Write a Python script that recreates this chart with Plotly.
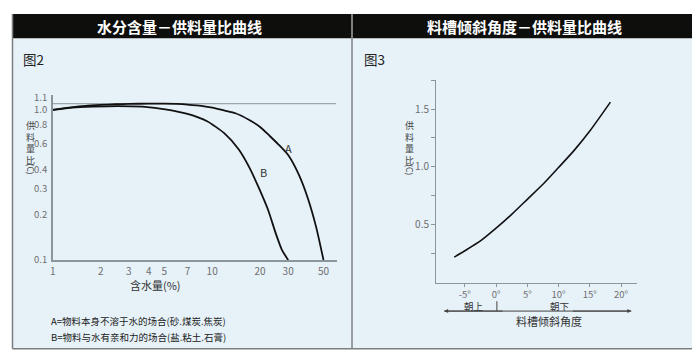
import plotly.graph_objects as go

# The page body has an 8px margin, so the figure is drawn 8px in from the window corner.
OFF = 8
W, H = 700 - OFF, 360 - OFF
def px(X): return (X - OFF) / W
def py(Y): return 1 - (Y - OFF) / H

# ---------------- data ----------------
# Fig.2: moisture content (%) vs feed ratio (C), log-log
moisture_a = [1, 1.3, 1.6, 2, 2.5, 3, 4, 5, 6, 7, 8, 10, 12, 14, 17, 20, 23, 26, 30, 35, 40, 45, 50]
ratio_a = [1.0, 1.04, 1.065, 1.08, 1.09, 1.097, 1.1, 1.1, 1.095, 1.085, 1.07, 1.035, 0.99, 0.95,
           0.86, 0.77, 0.67, 0.59, 0.50, 0.37, 0.255, 0.165, 0.1]
moisture_b = [1, 1.33, 1.78, 2.55, 3.65, 5.2, 7, 9.3, 11.9, 14.7, 17.3, 19.7, 22.4, 25.1, 27.4, 30]
ratio_b = [1.0, 1.035, 1.05, 1.06, 1.05, 1.005, 0.94, 0.84, 0.70, 0.545, 0.405, 0.30, 0.217,
           0.15, 0.117, 0.1]
ref_line_x = [1, 60]
ref_line_y = [1.1, 1.1]
x2_ticks = [1, 2, 3, 4, 5, 7, 10, 20, 30, 50]
y2_ticks = [0.1, 0.2, 0.3, 0.4, 0.6, 0.8, 1.0, 1.1]
y2_ticktext = ["0.1", "0.2", "0.3", "0.4", "0.6", "0.8", "1.0", "1.1<br>\u00a0"]

# Fig.3: trough tilt angle (deg) vs feed ratio (C)
tilt_deg = [-6.7, -5, -2.5, 0, 2.5, 5, 7.5, 10, 12.5, 15, 18.3]
tilt_ratio = [0.22, 0.275, 0.36, 0.47, 0.59, 0.72, 0.85, 0.995, 1.143, 1.31, 1.56]
x3_ticks = [-5, 0, 5, 10, 15, 20]
x3_ticktext = ["-5°", "0°", "5°", "10°", "15°", "20°"]
y3_ticks = [0.25, 0.5, 0.75, 1.0, 1.25, 1.5, 1.75]
y3_ticktext = ["", "0.5", "", "1.0", "", "1.5", ""]

FONT = "Noto Sans CJK SC"
AX = "#8a969c"
TICK = "#6e6e6e"
TXT = "#333333"

fig = go.Figure()
fig.add_trace(go.Scatter(x=ref_line_x, y=ref_line_y, mode="lines",
                         line=dict(color="#9ea6aa", width=1.3), xaxis="x", yaxis="y",
                         hoverinfo="skip", showlegend=False))
fig.add_trace(go.Scatter(x=moisture_a, y=ratio_a, mode="lines",
                         line=dict(color="#111111", width=1.8, shape="spline", smoothing=0.6),
                         xaxis="x", yaxis="y", name="A", showlegend=False))
fig.add_trace(go.Scatter(x=moisture_b, y=ratio_b, mode="lines",
                         line=dict(color="#111111", width=1.8, shape="spline", smoothing=0.6),
                         xaxis="x", yaxis="y", name="B", showlegend=False))
fig.add_trace(go.Scatter(x=tilt_deg, y=tilt_ratio, mode="lines",
                         line=dict(color="#111111", width=1.6, shape="spline", smoothing=0.6),
                         xaxis="x2", yaxis="y2", showlegend=False))

fig.update_layout(
    width=W, height=H, margin=dict(l=0, r=0, t=0, b=0),
    paper_bgcolor="white", plot_bgcolor="rgba(0,0,0,0)",
    font=dict(family=FONT, color=TXT),
    xaxis=dict(type="log", range=[0, 1.781], domain=[px(50), px(335)], anchor="y",
               tickvals=x2_ticks, ticktext=[str(v) for v in x2_ticks],
               showline=True, linecolor=AX, linewidth=1.5, showgrid=False, zeroline=False,
               ticks="", ticklabelstandoff=1, tickfont=dict(size=10, color=TICK)),
    yaxis=dict(type="log", range=[-1, 0.0968], domain=[py(263), py(93)], anchor="x",
               tickvals=y2_ticks, ticktext=y2_ticktext,
               showline=True, linecolor=AX, linewidth=1.5, showgrid=False, zeroline=False,
               ticks="", ticklabelstandoff=2, tickfont=dict(size=9.5, color=TICK)),
    xaxis2=dict(range=[-9.59, 22.6], domain=[px(435), px(637)], anchor="y2",
                tickvals=x3_ticks, ticktext=x3_ticktext,
                showline=True, linecolor=AX, linewidth=1.3, showgrid=False, zeroline=False,
                ticks="outside", ticklen=3, tickcolor=AX,
                tickfont=dict(size=9.5, color=TICK)),
    yaxis2=dict(range=[0, 1.755], domain=[py(286.3), py(76.7)], anchor="x2",
                tickvals=y3_ticks, ticktext=y3_ticktext,
                showline=True, linecolor=AX, linewidth=1.3, showgrid=False, zeroline=False,
                ticks="outside", ticklen=4, tickcolor=AX, tickfont=dict(size=10, color=TICK)),
)

shapes = []
BG = "#e6f1f8"
shapes.append(dict(type="rect", xref="paper", yref="paper", x0=px(10), x1=px(350), y0=py(354.5), y1=py(34),
                   fillcolor=BG, line=dict(width=0), layer="below"))
shapes.append(dict(type="rect", xref="paper", yref="paper", x0=px(351), x1=px(694.5), y0=py(354.5), y1=py(34),
                   fillcolor=BG, line=dict(width=0), layer="below"))
shapes.append(dict(type="rect", xref="paper", yref="paper", x0=px(9.5), x1=px(350), y0=py(34), y1=py(9),
                   fillcolor="#0e0e0c", line=dict(width=0), layer="below"))
shapes.append(dict(type="rect", xref="paper", yref="paper", x0=px(351), x1=px(695), y0=py(34), y1=py(9),
                   fillcolor="#0e0e0c", line=dict(width=0), layer="below"))
BORDER = "#7c7f80"
for (x0, y0, x1, y1) in [(9.5, 9, 9.5, 354.5), (9.5, 354.5, 694.5, 354.5),
                         (350.5, 9, 350.5, 354.5), (694.5, 9, 694.5, 354.5)]:
    shapes.append(dict(type="line", xref="paper", yref="paper", x0=px(x0), x1=px(x1), y0=py(y0), y1=py(y1),
                       line=dict(color=BORDER, width=1.5)))
shapes.append(dict(type="line", xref="paper", yref="paper", x0=px(443), x1=px(631), y0=py(315.7), y1=py(315.7),
                   line=dict(color="#444444", width=1)))
shapes.append(dict(type="line", xref="paper", yref="paper", x0=px(496), x1=px(496), y0=py(305.5), y1=py(315.7),
                   line=dict(color="#444444", width=1)))
fig.update_layout(shapes=shapes)

ann = []
def text(X, Y, s, size=11, color=TXT, bold=False, xanchor="center", angle=0):
    ann.append(dict(x=px(X), y=py(Y), xref="paper", yref="paper", text=("<b>%s</b>" % s) if bold else s,
                    showarrow=False, xanchor=xanchor, yanchor="middle", textangle=angle, borderpad=0,
                    font=dict(size=size, color=color, family=FONT)))

text(177, 21.5, "水分含量－供料量比曲线", size=15, color="white", bold=True)
text(524, 21.5, "料槽倾斜角度－供料量比曲线", size=15, color="white", bold=True)
text(19, 55, "图2", size=13.5, color="#222222", xanchor="left")
text(362, 55, "图3", size=13.5, color="#222222", xanchor="left")

for X in (28, 408):
    text(X, 142.5, "供<br>料<br>量<br>比", size=9, color="#444444")
    text(X, 169.5, "(C)", size=8.5, color="#444444", angle=90)

text(153, 288.5, "含水量(%)", size=11, color="#333333")
text(287, 147.5, "A", size=11, color="#333333")
text(262, 172.5, "B", size=11, color="#333333")
text(47, 326, "A=物料本身不溶于水的场合(砂.煤炭.焦炭)", size=9.5, color="#222222", xanchor="left")
text(47, 342, "B=物料与水有亲和力的场合(盐.粘土.石膏)", size=9.5, color="#222222", xanchor="left")

text(473, 310.5, "朝上", size=9.5, color="#333333")
text(559, 310.5, "朝下", size=9.5, color="#333333")
text(548, 325.5, "料槽倾斜角度", size=11, color="#333333")

for tipx, off in ((443, 60), (631, -60)):
    ann.append(dict(x=px(tipx), y=py(315.7), xref="paper", yref="paper", text="", showarrow=True,
                    ax=off, ay=0, arrowhead=2, arrowsize=0.8, arrowwidth=1, arrowcolor="#444444"))

fig.update_layout(annotations=ann)
fig.write_html("out.html")
